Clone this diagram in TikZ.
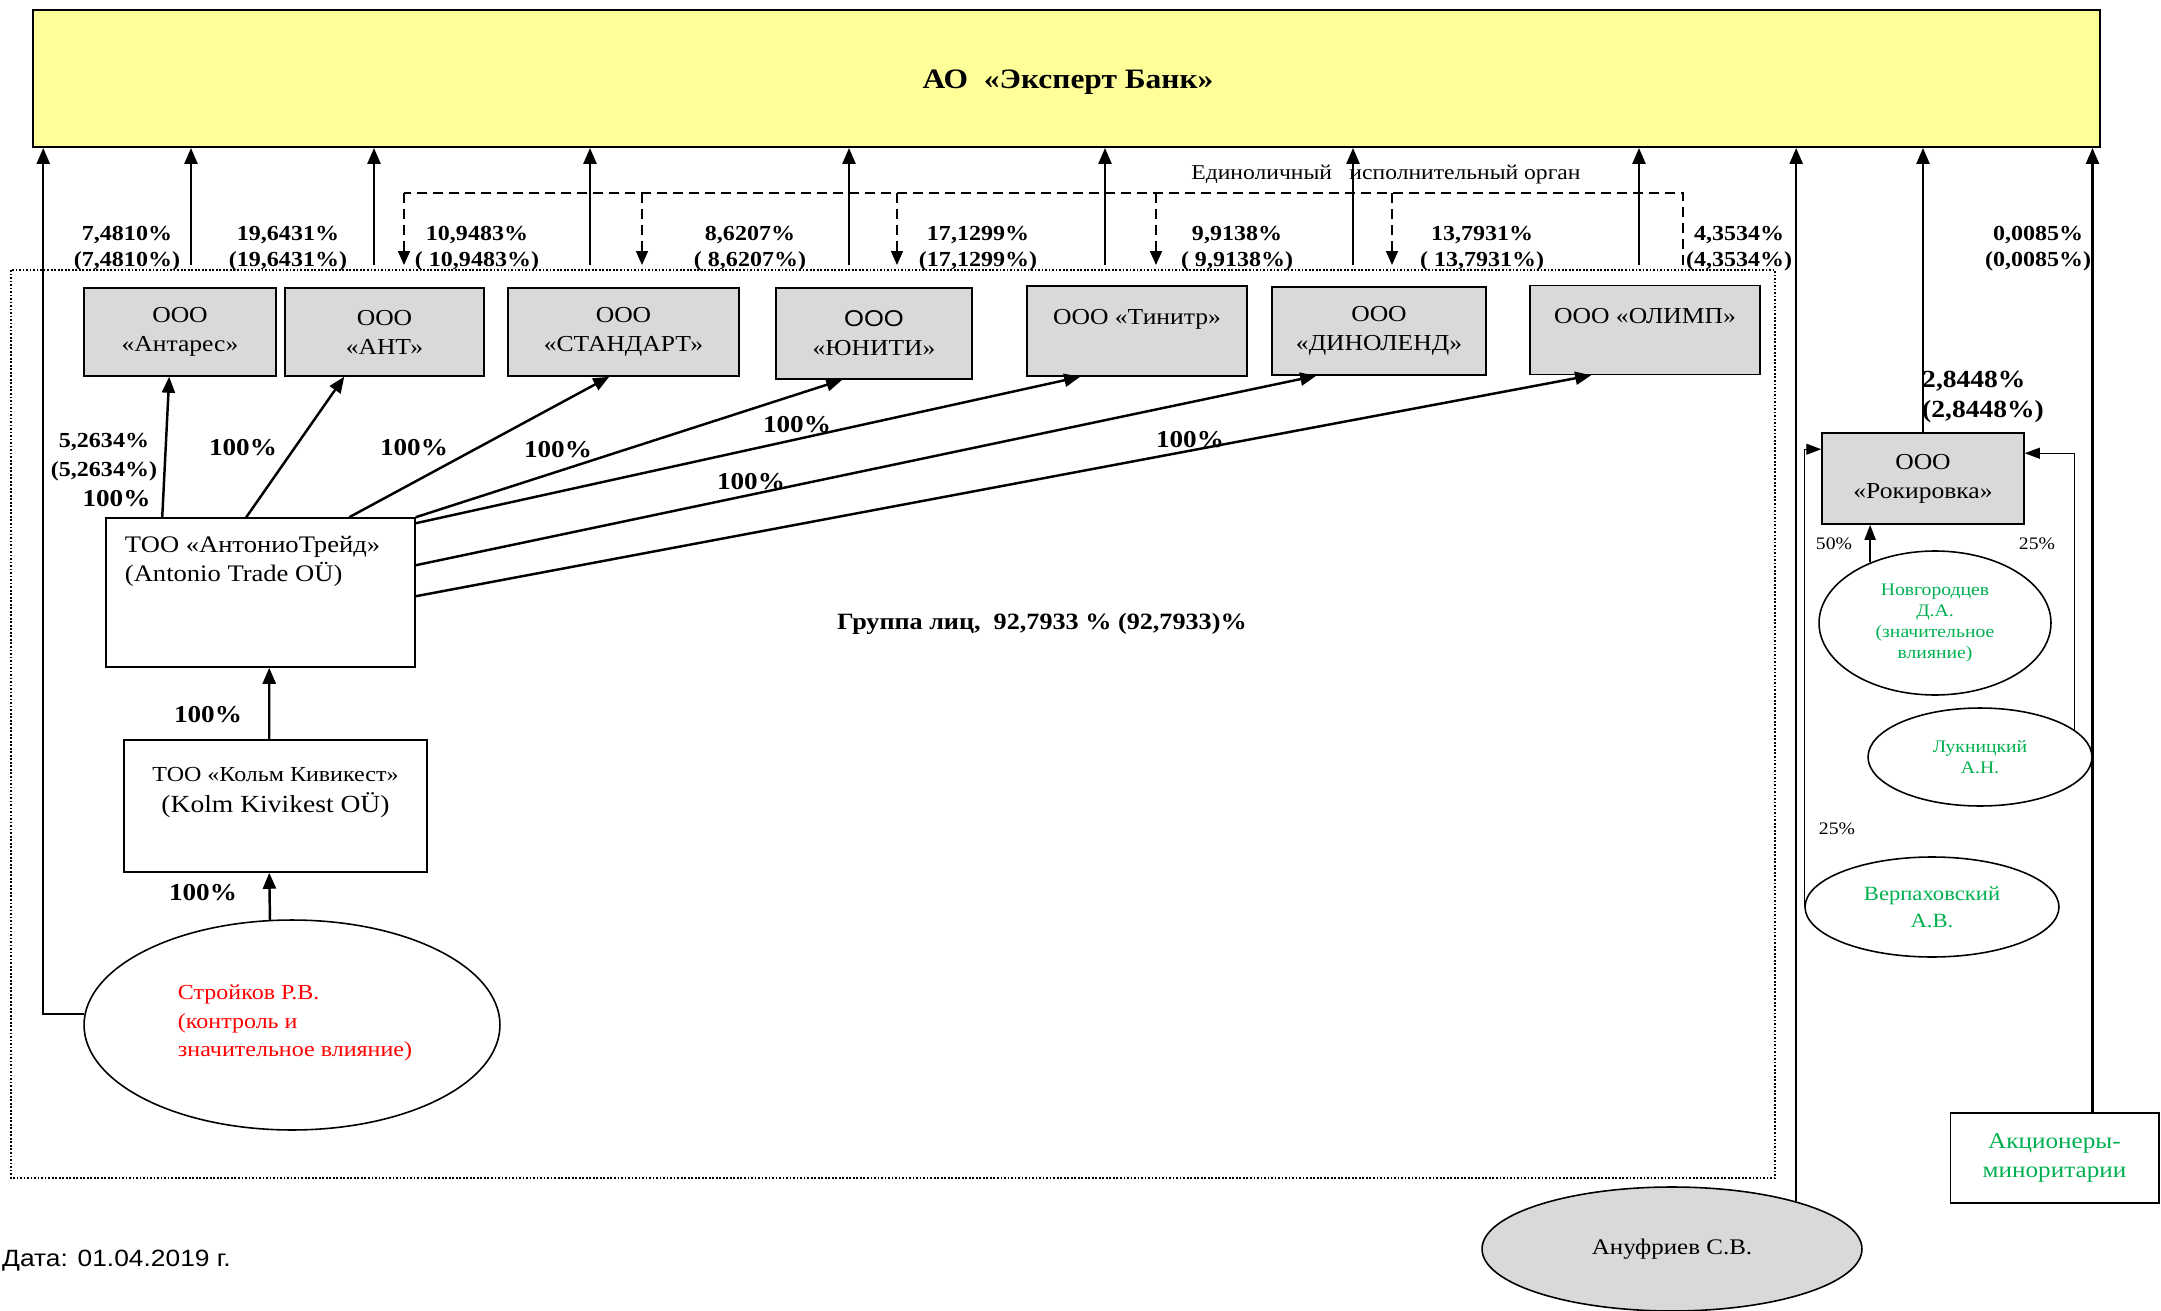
\documentclass[tikz,border=0pt]{standalone}
\usepackage{fontspec}
\setmainfont{Liberation Serif}[FakeStretch=1.12]
\newfontfamily\arialfont{Liberation Sans}[FakeStretch=1.12]
\usetikzlibrary{arrows.meta,shapes.geometric,calc}

\definecolor{bankyellow}{HTML}{FFFF99}
\definecolor{firmgray}{HTML}{D9D9D9}
\definecolor{persgreen}{HTML}{00B050}
\newcommand{\fsz}[2]{\fontsize{#1}{#2}\selectfont}

\tikzset{
  box/.style={draw, line width=0.9pt, inner sep=0pt},
  firm/.style={box, fill=firmgray, align=center, font=\fsz{13}{16.5}},
  person/.style={draw, ellipse, line width=0.9pt, inner sep=0pt, align=center},
  own/.style={line width=1.4pt, -{Triangle[length=0.32cm,width=0.26cm]}},
  thinown/.style={line width=0.6pt, -{Triangle[length=0.3cm,width=0.22cm]}},
  eio/.style={line width=0.9pt, dash pattern=on 0.2cm off 0.12cm},
  pct/.style={font=\fsz{12.2}{14.8}\bfseries, align=center},
  full/.style={font=\fsz{13.8}{16}\bfseries},
  small/.style={font=\fsz{10}{12}},
}

\begin{document}
\begin{tikzpicture}[x=0.02cm, y=-0.02cm]
\useasboundingbox (0,0) rectangle (2161,1311);

\node[box, fill=bankyellow, line width=1.1pt, minimum width=41.34cm, minimum height=2.74cm] (bank) at (1066.5,78.5) {};
\node[font=\fsz{16}{19}\bfseries] (bankname) at (1068,82) {АО~~«Эксперт Банк»};
\draw[line width=0.6pt, dash pattern=on 1pt off 1pt] (11,270) rectangle (1775,1178); % group
\node[font=\fsz{13.3}{15}\bfseries] (grp) at (1042,624) {Группа лиц,~~92,7933 \% (92,7933)\%};

% companies
\node[firm, minimum width=3.84cm, minimum height=1.76cm] (antares) at (180,332) {ООО\\«Антарес»};
\node[firm, minimum width=3.98cm, minimum height=1.76cm] (ant) at (384.5,332) {ООО\\«АНТ»};
\node[firm, minimum width=4.62cm, minimum height=1.76cm] (standart) at (623.5,332) {ООО\\«СТАНДАРТ»};
\node[firm, minimum width=3.92cm, minimum height=1.82cm] (juniti) at (874,333.5) {{\arialfont ООО}\\«ЮНИТИ»};
\node[firm, minimum width=4.4cm, minimum height=1.8cm] (tinitr) at (1137,331) {ООО «Тинитр»\\\phantom{Й}};
\node[firm, minimum width=4.28cm, minimum height=1.76cm] (dinolend) at (1379,331) {ООО\\«ДИНОЛЕНД»};
\node[firm, minimum width=4.6cm, minimum height=1.78cm] (olimp) at (1645,330) {ООО «ОЛИМП»\\\phantom{Й}};
\node[firm, minimum width=4.04cm, minimum height=1.82cm] (rokir) at (1923,478.5) {ООО\\«Рокировка»};

\node[box, minimum width=6.18cm, minimum height=2.98cm, label={[anchor=north west, align=left, font=\fsz{13.5}{16.5}, xshift=0.27cm, yshift=-0.26cm]north west:{ТОО «АнтониоТрейд»\\(Antonio Trade OÜ)}}] (antonio) at (260.5,592.5) {};
\node[box, minimum width=6.06cm, minimum height=2.64cm, label={[anchor=north, align=center, font=\fsz{12.2}{17.6}, yshift=-0.44cm]north:{ТОО «Кольм Кивикест»\\{\fsz{14}{17.6}(Kolm Kivikest OÜ)}}}] (kolm) at (275.5,806) {};
\node[box, line width=0.6pt, minimum width=4.18cm, minimum height=1.8cm, align=center, text=persgreen, font=\fsz{12.8}{16.5}] (minor) at (2054.5,1158) {Акционеры-\\миноритарии};

% persons
\node[person, minimum width=8.32cm, minimum height=4.2cm, text=red, font=\fsz{12.2}{16}] (stroikov) at (292,1025) {};
\node[align=left, text=red, font=\fsz{12.2}{16}] (stroikovtxt) at (295,1023) {Стройков Р.В.\\(контроль и\\значительное влияние)};
\node[person, minimum width=4.64cm, minimum height=2.88cm, text=persgreen, small] (novgorod) at (1935,623) {Новгородцев\\Д.А.\\(значительное\\влияние)};
\node[person, minimum width=4.48cm, minimum height=1.96cm, text=persgreen, small] (luknits) at (1980,757) {Лукницкий\\А.Н.};
\node[person, minimum width=5.08cm, minimum height=2.0cm, text=persgreen, font=\fsz{11.5}{15.4}] (verpah) at (1932,907) {Верпаховский\\А.В.};
\node[person, fill=firmgray, minimum width=7.6cm, minimum height=2.48cm, font=\fsz{12.7}{15}] (anufriev) at (1672,1249) {Ануфриев С.В.};

% shares in the bank
\foreach \x [count=\i] in {191,374,590,849,1105,1353,1639} {
  \coordinate (st\i) at (\x,265);
  \draw[own] (st\i) -- (st\i |- bank.south);
}
\foreach \x/\a/\b in {{127/7,4810\%/(7,4810\%)}, {288/19,6431\%/(19,6431\%)},
    {477/10,9483\%/( 10,9483\%)}, {750/8,6207\%/( 8,6207\%)}, {978/17,1299\%/(17,1299\%)},
    {1237/9,9138\%/( 9,9138\%)}, {1482/13,7931\%/( 13,7931\%)}, {1739/4,3534\%/(4,3534\%)},
    {2038/0,0085\%/(0,0085\%)}}
  \node[pct] (p\x) at (\x,249) {\a\\\b};

% sole executive body
\node[font=\fsz{12}{14}] (eio) at (1386,175) {Единоличный\hspace{0.35cm}исполнительный орган};
\coordinate (e0) at (404,193);
\coordinate (e1) at (1683,193);
\draw[eio] (1683,265) -- (e1) -- (e0);
\foreach \x in {404,642,897,1156,1392} {
  \coordinate (d\x) at (\x,265);
  \draw[eio, -{Triangle[length=0.28cm,width=0.24cm]}] (d\x |- e0) -- (d\x);
}

% AntonioTrade
\draw[own] ($(antonio.north west)+(57,0)$) -- ($(antares.south west)+(86,0)$);
\draw[own] ($(antonio.north west)+(141,0)$) -- ($(ant.south west)+(60,0)$);
\draw[own] ($(antonio.north west)+(244,0)$) -- ($(standart.south west)+(102,0)$);
\draw[own] (antonio.north east) -- ($(juniti.south west)+(67,0)$);
\draw[own] ($(antonio.north east)+(0,6)$) -- ($(tinitr.south west)+(54,0)$);
\draw[own] ($(antonio.north east)+(0,48)$) -- ($(dinolend.south west)+(45,0)$);
\draw[own] ($(antonio.north east)+(0,79)$) -- ($(olimp.south west)+(62,0)$);
\node[pct, font=\fsz{12.2}{16.8}\bfseries] (l1) at (104,470) {5,2634\%\\(5,2634\%)\\\hspace*{0.5cm}{\fsz{13.8}{16.8}100\%}};
\node[full] (l2) at (243,448) {100\%};
\node[full] (l3) at (414,448) {100\%};
\node[full] (l4) at (558,450) {100\%};
\node[full] (l5) at (797,425) {100\%};
\node[full] (l6) at (751,482) {100\%};
\node[full] (l7) at (1190,440) {100\%};

% Stroikov chain
\draw[own] ($(kolm.north west)+(146,0)$) -- ($(antonio.south west)+(164,0)$);
\draw[own] ($(stroikov.north)+(-22,1)$) -- ($(kolm.south west)+(146,0)$);
\draw[own] (stroikov.177) -| ($(bank.south west)+(11,0)$);
\node[full] (l8) at (208,715) {100\%};
\node[full] (l9) at (203,893) {100\%};

% right side
\coordinate (m1) at ($(minor.north west)+(143,0)$);
\draw[own] (rokir.north) -- (rokir.north |- bank.south);
\draw[own] (anufriev.21) -- (anufriev.21 |- bank.south);
\draw[own] (m1) -- (m1 |- bank.south);
\node[anchor=west, align=left, font=\fsz{14}{17}\bfseries] (l10) at (1916,397) {2,8448\%\\(2,8448\%)};
\draw[thinown, line width=1.1pt] (novgorod.137) -- (novgorod.137 |- rokir.south);
\draw[thinown] (verpah.west) |- ($(rokir.north west)+(0,17)$);
\draw[thinown] (luknits.16) |- ($(rokir.north east)+(0,21)$);
\node[small] (s1) at (1834,544) {50\%};
\node[small] (s2) at (2037,544) {25\%};
\node[small] (s3) at (1837,829) {25\%};

\node[anchor=west, font=\arialfont\fsz{13.4}{15}] (date) at (-4,1261) {Дата: 01.04.2019 г.};
\end{tikzpicture}
\end{document}
